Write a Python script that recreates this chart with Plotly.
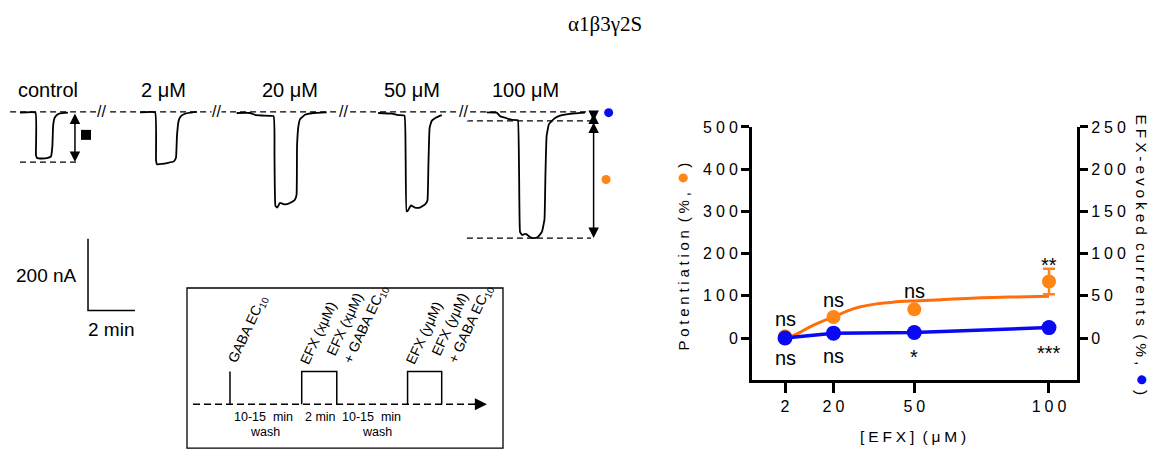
import plotly.graph_objects as go

# ------------------------------------------------------------------ data
# concentration-response panel
efx_conc = [2, 20, 50, 100]
conc_ticktext = ["2", "20", "50", "100"]
potentiation = [4, 50, 68, 134]          # % (left axis, orange)
potentiation_err = [0, 0, 0, 30]
efx_evoked = [0, 5.8, 6.6, 12.4]         # % (right axis, blue)
fit_conc = [2, 5, 8, 12, 16, 20, 25, 30, 36, 42, 50, 60, 73, 85, 100]
fit_pot = [0, 6, 15, 29, 40, 50, 64, 74, 81, 85, 88, 91, 95, 97, 99]
sig_top = ["ns", "ns", "ns", "**"]
sig_top_y = [46, 89, 112, 174]
sig_bottom = ["ns", "ns", "*", "***"]
sig_bottom_y = [-47, -43, -44, -36]
left_ticks = [0, 100, 200, 300, 400, 500]
right_ticks = [0, 50, 100, 150, 200, 250]

# current traces (time in min, current in nA)
control_t = [0.85, 1.51, 1.53, 1.57, 1.79, 2.04, 2.17, 2.23, 2.26, 2.32, 2.43, 2.55, 2.89]
control_i = [-2, -2, -120, -128, -130, -128, -124, -94, -39, -17, -8, -4, -2]
c2_t = [5.96, 6.60, 6.64, 6.68, 6.89, 7.15, 7.40, 7.49, 7.53, 7.60, 7.70, 7.87, 8.09, 8.38]
c2_i = [-1, -1, -135, -146, -145, -142, -138, -127, -67, -25, -12, -5, -2, 0]
c20_t = [10.07, 10.64, 10.85, 11.15, 11.64, 11.68, 11.72, 11.80, 11.91, 12.13, 12.34,
         12.55, 12.62, 12.64, 12.70, 12.77, 12.98, 13.32, 13.90]
c20_i = [-3, -3, -8, -10, -12, -121, -262, -267, -254, -258, -254, -245, -231, -94,
         -39, -20, -8, -3, -1]
c50_t = [16.09, 16.68, 16.94, 17.21, 17.26, 17.30, 17.36, 17.49, 17.66, 17.87, 18.09,
         18.19, 18.23, 18.28, 18.37, 18.58, 18.80]
c50_i = [-3, -5, -9, -10, -121, -277, -275, -261, -267, -267, -258, -247, -149, -45,
         -25, -15, -9]
c100_t = [20.71, 21.14, 21.28, 21.49, 21.70, 21.99, 22.04, 22.09, 22.13, 22.21, 22.38,
          22.55, 22.72, 22.89, 23.06, 23.17, 23.21, 23.26, 23.36, 23.62, 23.91, 24.47, 24.89]
c100_i = [-1, -2, -12, -16, -21, -23, -23, -176, -335, -343, -340, -349, -352, -349,
          -335, -300, -176, -67, -34, -17, -9, -4, -2]
trace_labels = ["control", "2 μM", "20 μM", "50 μM", "100 μM"]
break_times = [4.34, 9.23, 14.6, 19.74]
baseline_span = [0.43, 25.15]
control_peak = -140
control_peak_span = [0.85, 3.32]
c100_efx_level = -25
c100_peak = -352
c100_span = [19.87, 25.15]
scale_nA = 200
scale_min = 2

# protocol schematic (arbitrary time units)
gaba_time = 1.36
pulse_on = [3.63, 6.98]
pulse_off = [4.74, 8.06]
timeline_span = [0.19, 9.49]
proto_labels = ["GABA EC<sub>10</sub>", "EFX (xμM)", "EFX (xμM)<br>+ GABA EC<sub>10</sub>",
                "EFX (yμM)", "EFX (yμM)<br>+ GABA EC<sub>10</sub>"]
proto_label_t = [1.36, 3.63, 4.74, 6.98, 8.06]
proto_lines = [1, 1, 2, 1, 2]
period_text = ["10-15\u00a0\u00a0min", "2 min", "10-15\u00a0\u00a0min"]
period_t = [2.41, 4.21, 5.84]
wash_t = [2.47, 6.0]

# ------------------------------------------------------------------ styles
W, H = 1156, 450
OX, OY = 8, 8                 # page body margin
FW, FH = W - OX, H - OY
ORANGE = "#FF8516"
ORANGE_LINE = "#FF6E0A"
BLUE = "#0A0AF2"
SANS = "Liberation Sans, Arial, sans-serif"
SP = "\u2005"
NB = "\u00a0"
GAP = NB + SP


def spaced(s):
    return SP.join(list(s))


def px(x):
    return (x - OX) / FW


def py(y):
    return 1 - (y - OY) / FH


def txt(size, family=SANS):
    return dict(family=family, size=size, color="black")


def dot(color, size):
    return f'<span style="color:{color};font-size:{size}px">●</span>'


fig = go.Figure()

# ---------------- current traces panel (x2 / y3)
for t, i in [(control_t, control_i), (c2_t, c2_i), (c20_t, c20_i), (c50_t, c50_i), (c100_t, c100_i)]:
    fig.add_trace(go.Scatter(x=t, y=i, mode="lines", xaxis="x2", yaxis="y3",
                             line=dict(color="black", width=1.8, shape="spline", smoothing=0.3),
                             hoverinfo="skip"))

dash = dict(color="black", width=1.3, dash="6px,4px")
fig.add_trace(go.Scatter(x=baseline_span, y=[0, 0], mode="lines", xaxis="x2", yaxis="y3", line=dash))
fig.add_trace(go.Scatter(x=control_peak_span, y=[control_peak] * 2, mode="lines", xaxis="x2", yaxis="y3", line=dash))
fig.add_trace(go.Scatter(x=c100_span, y=[c100_efx_level] * 2, mode="lines", xaxis="x2", yaxis="y3", line=dash))
fig.add_trace(go.Scatter(x=c100_span, y=[c100_peak] * 2, mode="lines", xaxis="x2", yaxis="y3", line=dash))

# square marker for control amplitude
fig.add_trace(go.Scatter(x=[3.66], y=[control_peak / 2 + 6], mode="markers", xaxis="x2", yaxis="y3",
                         marker=dict(symbol="square", size=10, color="black")))
# colored dots for 100 uM components
fig.add_trace(go.Scatter(x=[25.9], y=[-2], mode="markers", xaxis="x2", yaxis="y3",
                         marker=dict(size=9, color=BLUE)))
fig.add_trace(go.Scatter(x=[25.79], y=[(c100_efx_level + c100_peak) / 2], mode="markers", xaxis="x2", yaxis="y3",
                         marker=dict(size=9, color=ORANGE)))

# scale bar
sb_t0, sb_i0 = 3.745, -554
fig.add_trace(go.Scatter(x=[sb_t0, sb_t0, sb_t0 + scale_min], y=[sb_i0 + scale_nA, sb_i0, sb_i0],
                         mode="lines", xaxis="x2", yaxis="y3", line=dict(color="black", width=1.5)))

annotations = []
# double arrows
arrow_common = dict(xref="x2", yref="y3", axref="x2", ayref="y3", text="", showarrow=True,
                    arrowhead=2, arrowside="end+start", arrowsize=1.4, arrowwidth=1.5,
                    arrowcolor="black", standoff=0, startstandoff=0)
annotations.append(dict(x=3.19, y=control_peak, ax=3.19, ay=0, **arrow_common))
annotations.append(dict(x=25.26, y=c100_efx_level, ax=25.26, ay=0, **arrow_common))
annotations.append(dict(x=25.26, y=c100_peak, ax=25.26, ay=c100_efx_level, **arrow_common))

# break marks
for bt in break_times:
    annotations.append(dict(x=bt, y=0, xref="x2", yref="y3", text="//", showarrow=False,
                            xanchor="center", yanchor="middle",
                            font=txt(16), bgcolor="white", borderpad=0))

# trace labels
for lab, xc in zip(trace_labels, [48, 163, 290, 412, 525]):
    annotations.append(dict(x=px(xc), y=py(83), xref="paper", yref="paper", text=lab, showarrow=False,
                            xanchor="center", yanchor="middle", font=txt(20)))
annotations.append(dict(x=px(79), y=py(272), xref="paper", yref="paper", text="200 nA", showarrow=False,
                        xanchor="right", yanchor="middle", font=txt(19)))
annotations.append(dict(x=px(111), y=py(327), xref="paper", yref="paper", text="2 min", showarrow=False,
                        xanchor="center", yanchor="middle", font=txt(19)))

# ---------------- protocol schematic (x3 / y4)
TL_Y, PULSE_Y = 0.274, 0.479
fig.add_trace(go.Scatter(x=[timeline_span[0], timeline_span[1] - 0.3], y=[TL_Y, TL_Y], mode="lines",
                         xaxis="x3", yaxis="y4", line=dict(color="black", width=1.5, dash="7px,4px")))
annotations.append(dict(x=timeline_span[1], y=TL_Y, ax=timeline_span[1] - 0.45, ay=TL_Y,
                        xref="x3", yref="y4", axref="x3", ayref="y4", text="", showarrow=True,
                        arrowhead=2, arrowsize=1.6, arrowwidth=1.5, arrowcolor="black", standoff=0))
fig.add_trace(go.Scatter(x=[gaba_time, gaba_time], y=[TL_Y, PULSE_Y], mode="lines",
                         xaxis="x3", yaxis="y4", line=dict(color="black", width=1.5)))
for on, off in zip(pulse_on, pulse_off):
    fig.add_trace(go.Scatter(x=[on, on, off, off], y=[TL_Y, PULSE_Y, PULSE_Y, TL_Y], mode="lines",
                             xaxis="x3", yaxis="y4", line=dict(color="black", width=1.5)))
for lab, t, nl in zip(proto_labels, proto_label_t, proto_lines):
    annotations.append(dict(x=t, y=PULSE_Y + 0.015, xref="x3", yref="y4", text=lab, showarrow=False,
                            textangle=-65, xanchor="left", yanchor="bottom", align="left",
                            xshift=-8 * nl, font=txt(14)))
for lab, t in zip(period_text, period_t):
    annotations.append(dict(x=t, y=0.192, xref="x3", yref="y4", text=lab, showarrow=False,
                            xanchor="center", yanchor="middle", font=txt(12.5)))
for t in wash_t:
    annotations.append(dict(x=t, y=0.10, xref="x3", yref="y4", text="wash", showarrow=False,
                            xanchor="center", yanchor="middle", font=txt(12.5)))

# ---------------- concentration-response panel (x / y / y2)
fig.add_trace(go.Scatter(x=fit_conc, y=fit_pot, mode="lines", xaxis="x", yaxis="y",
                         line=dict(color=ORANGE_LINE, width=3, shape="spline")))
fig.add_trace(go.Scatter(x=efx_conc, y=potentiation, mode="markers", xaxis="x", yaxis="y",
                         marker=dict(size=14, color=ORANGE),
                         error_y=dict(type="data", array=potentiation_err, color=ORANGE,
                                      thickness=2.5, width=6)))
fig.add_trace(go.Scatter(x=efx_conc, y=efx_evoked, mode="lines+markers", xaxis="x", yaxis="y2",
                         line=dict(color=BLUE, width=3.5), marker=dict(size=15, color=BLUE)))

for lab, xv, yv in zip(sig_top, efx_conc, sig_top_y):
    annotations.append(dict(x=xv, y=yv, xref="x", yref="y", text=lab, showarrow=False,
                            xanchor="center", yanchor="middle", font=txt(20)))
for lab, xv, yv in zip(sig_bottom, efx_conc, sig_bottom_y):
    annotations.append(dict(x=xv, y=yv, xref="x", yref="y", text=lab, showarrow=False,
                            xanchor="center", yanchor="middle", font=txt(20)))

# axis titles
left_title = spaced("Potentiation") + GAP + spaced("(%,") + GAP + dot(ORANGE, 21) + SP + ")"
right_title = (spaced("EFX-evoked") + GAP + spaced("currents") + GAP + spaced("(%,") + GAP
               + dot(BLUE, 21) + SP + ")")
annotations.append(dict(x=px(682), y=py(253), xref="paper", yref="paper", showarrow=False, textangle=-90,
                        xanchor="center", yanchor="middle", text=left_title, font=txt(15)))
annotations.append(dict(x=px(1143), y=py(251), xref="paper", yref="paper", showarrow=False, textangle=90,
                        xanchor="center", yanchor="middle", text=right_title, font=txt(15.5)))
annotations.append(dict(x=px(913), y=py(436), xref="paper", yref="paper", showarrow=False,
                        xanchor="center", yanchor="middle",
                        text=spaced("[EFX]") + GAP + spaced("(μM)"), font=txt(15.5)))
# title
annotations.append(dict(x=px(605), y=py(16), xref="paper", yref="paper", showarrow=False,
                        xanchor="center", yanchor="middle",
                        text="α1β3γ2S", font=txt(21, "Liberation Serif, serif")))

shapes = [dict(type="rect", xref="x3 domain", yref="y4 domain", x0=0, x1=1, y0=0, y1=1,
               line=dict(color="black", width=1.3))]

axis_common = dict(showgrid=False, zeroline=False, showline=True, linecolor="black", linewidth=3,
                   ticks="outside", tickcolor="black", tickwidth=3,
                   tickfont=txt(16))

fig.update_layout(
    width=FW, height=FH, margin=dict(l=0, r=0, t=0, b=0, pad=0),
    paper_bgcolor="white", plot_bgcolor="white", showlegend=False,
    xaxis=dict(domain=[px(752), px(1077)], range=[-10.25, 110.4], anchor="y",
               tickvals=efx_conc, ticktext=[spaced(s) for s in conc_ticktext], ticklen=10, **axis_common),
    yaxis=dict(domain=[py(379), py(121)], range=[-100, 500], anchor="x",
               tickvals=left_ticks, ticktext=[spaced(str(v)) for v in left_ticks], ticklen=8, **axis_common),
    yaxis2=dict(overlaying="y", side="right", anchor="x", range=[-50, 250],
                tickvals=right_ticks, ticktext=[spaced(str(v)) for v in right_ticks], ticklen=8, **axis_common),
    xaxis2=dict(domain=[px(OX), px(620)], range=[OX / 23.5, 620 / 23.5], anchor="y3", visible=False),
    yaxis3=dict(domain=[py(H), py(60)], range=[-(H - 105.7) * 2.74, (105.7 - 60) * 2.74], anchor="x2", visible=False),
    xaxis3=dict(domain=[px(187), px(503)], range=[0, 10], anchor="y4", visible=False),
    yaxis4=dict(domain=[py(448), py(285)], range=[0, 1], anchor="x3", visible=False),
    annotations=annotations, shapes=shapes,
)

fig.write_html("out.html")
